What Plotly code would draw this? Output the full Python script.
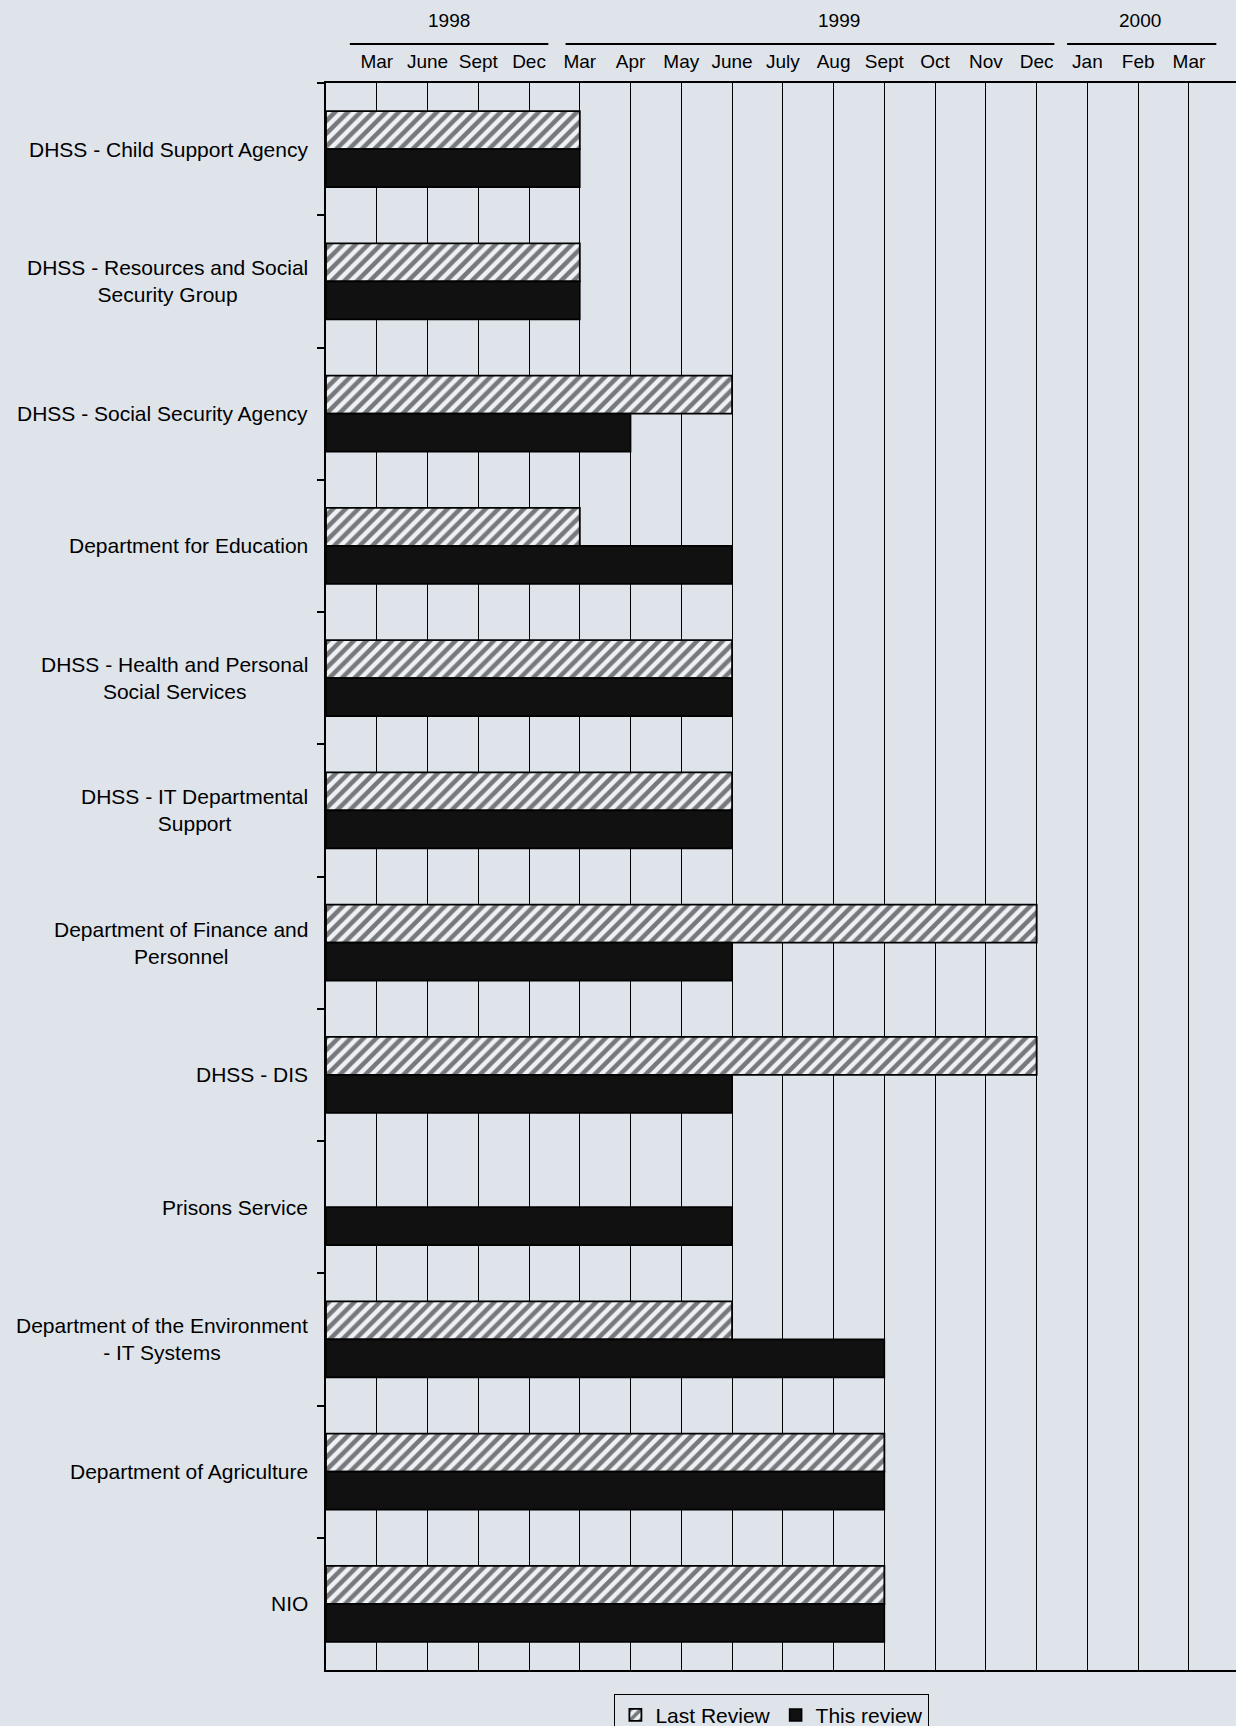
import plotly.graph_objects as go

# ---- data ----
periods = ["Mar 1998", "June 1998", "Sept 1998", "Dec 1998",
           "Mar 1999", "Apr 1999", "May 1999", "June 1999", "July 1999",
           "Aug 1999", "Sept 1999", "Oct 1999", "Nov 1999", "Dec 1999",
           "Jan 2000", "Feb 2000", "Mar 2000"]
month_labels = [p.split(" ")[0] for p in periods]
years = ["1998", "1999", "2000"]

departments = [
    "DHSS - Child Support Agency",
    "DHSS - Resources and Social<br>Security Group",
    "DHSS - Social Security Agency",
    "Department for Education",
    "DHSS - Health and Personal<br>Social Services",
    "DHSS - IT Departmental<br>Support",
    "Department of Finance and<br>Personnel",
    "DHSS - DIS",
    "Prisons Service",
    "Department of the Environment<br>- IT Systems",
    "Department of Agriculture",
    "NIO",
]
last_review = ["Mar 1999", "Mar 1999", "June 1999", "Mar 1999", "June 1999",
               "June 1999", "Dec 1999", "Dec 1999", None, "June 1999",
               "Sept 1999", "Sept 1999"]
this_review = ["Mar 1999", "Mar 1999", "Apr 1999", "June 1999", "June 1999",
               "June 1999", "June 1999", "June 1999", "June 1999", "Sept 1999",
               "Sept 1999", "Sept 1999"]

# ---- layout constants ----
W, H = 1236, 1726
ML, MR, MT, MB = 326, 0, 83, 56
UNIT = 50.76
XMAX = (W - ML - MR) / UNIT
BG = "#dfe4eb"
year_spans = [(0.47, 4.38), (4.72, 14.35), (14.6, 17.54)]
year_centers = [2.43, 10.1, 16.04]


def pos(p):
    return None if p is None else periods.index(p) + 1


fig = go.Figure()
fig.add_trace(go.Bar(
    name="Last Review", orientation="h", y=departments,
    x=[pos(p) for p in last_review],
    marker=dict(color=BG, line=dict(color="black", width=1.8),
                pattern=dict(shape="/", fgcolor="black", bgcolor="#eef1f5",
                             size=9, solidity=0.5)),
))
fig.add_trace(go.Bar(
    name="This review", orientation="h", y=departments,
    x=[pos(p) for p in this_review],
    marker=dict(color="#111111", line=dict(color="black", width=1.6)),
))

# category labels (centred multi-line, right edge by the axis)
for d in departments:
    fig.add_annotation(x=-0.0176, xref="paper", y=d, yref="y", text=d,
                       showarrow=False, xanchor="right", align="center",
                       font=dict(family="Liberation Sans, Arial, sans-serif",
                                 size=21, color="black"))

# year labels and bracket lines
plot_h = H - MT - MB
for yr, (a, b), c in zip(years, year_spans, year_centers):
    fig.add_shape(type="line", xref="x", yref="paper", x0=a, x1=b,
                  y0=1 + (MT - 44) / plot_h, y1=1 + (MT - 44) / plot_h,
                  line=dict(color="black", width=2))
    fig.add_annotation(x=c, xref="x", y=1 + (MT - 21) / plot_h, yref="paper",
                       text=yr, showarrow=False, yanchor="middle",
                       font=dict(family="Liberation Sans Narrow, Arial Narrow, sans-serif",
                                 size=19, color="black"))

fig.update_layout(
    width=W, height=H,
    margin=dict(l=ML, r=MR, t=MT, b=MB, autoexpand=False),
    paper_bgcolor=BG, plot_bgcolor=BG,
    barmode="group", bargap=0.425, bargroupgap=0,
    font=dict(family="Liberation Sans, Arial, sans-serif", size=19, color="black"),
    legend=dict(orientation="h", x=0.49, xanchor="center", y=-0.0150,
                yanchor="top", bgcolor=BG, bordercolor="black", borderwidth=1,
                font=dict(size=21), traceorder="normal", itemwidth=30),
    showlegend=True,
)
fig.update_xaxes(
    side="top", range=[0, XMAX], tickvals=list(range(1, len(periods) + 1)),
    ticktext=month_labels, showgrid=True, gridcolor="black", gridwidth=1.2,
    zeroline=False, showline=True, linecolor="black", linewidth=2,
    mirror=True, ticks="", ticklabelstandoff=5,
    tickfont=dict(family="Liberation Sans Narrow, Arial Narrow, sans-serif", size=19),
)
fig.update_yaxes(
    type="category", range=[len(departments) - 0.5, -0.5],
    showticklabels=False, showgrid=False, zeroline=False,
    showline=True, linecolor="black", linewidth=2,
    ticks="outside", tickson="boundaries", ticklen=7, tickcolor="black",
    tickwidth=1.5,
)

fig.write_html("out.html")
